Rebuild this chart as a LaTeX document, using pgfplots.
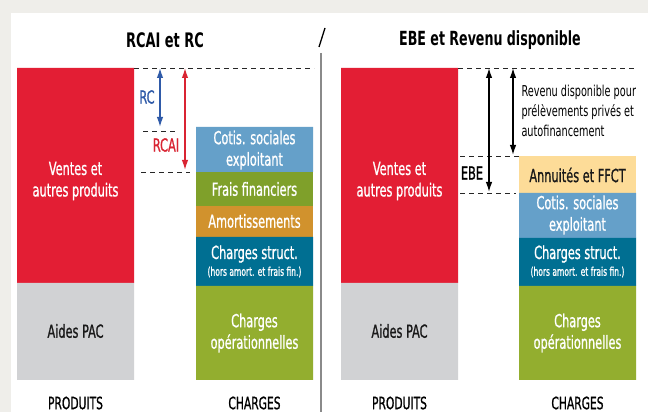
\documentclass[border=0pt]{standalone}
\usepackage{pgfplots}
\usepackage{pgfplotstable}
\pgfplotsset{compat=1.18}
\usetikzlibrary{arrows.meta}
\usepackage{fontspec}
\setmainfont{DejaVu Sans Condensed}[FakeStretch=0.72]
\newfontfamily\medfont{DejaVu Sans Condensed}[FakeStretch=0.7, FakeBold=0.9]

\definecolor{bgout}{HTML}{EFEEEA}
\definecolor{cventes}{HTML}{E31E34}
\definecolor{caides}{HTML}{D1D2D4}
\definecolor{cope}{HTML}{93AE2F}
\definecolor{cfrais}{HTML}{7FA02A}
\definecolor{camort}{HTML}{D1922D}
\definecolor{cstruct}{HTML}{006F92}
\definecolor{ccotis}{HTML}{65A0C9}
\definecolor{cannu}{HTML}{FDDC98}
\definecolor{arblue}{HTML}{2F5AA8}
\definecolor{arred}{HTML}{D92432}
\definecolor{sepgray}{HTML}{8A8A8A}

% bar segments, in px of the 648x412 reference, stacked from the baseline
\pgfplotstableread{
x     aides ope ventes struct amort frais cotis annu
75.5  97    0   215    0      0     0     0     0
254.5 0     94  0      49     31    34    45    0
399.5 97    0   215    0      0     0     0     0
577.5 0     94  0      48     0     0     45    37
}\budget

\pgfplotsset{frame/.style={
  at={(0,0)}, anchor=south west,
  width=648pt, height=412pt, scale only axis,
  xmin=0, xmax=648, ymin=-32, ymax=380,
  hide axis, clip=false}}

\tikzset{lab/.style={align=center, text=white, font=\medfont\fontsize{18}{21.5}\selectfont},
         small/.style={font=\medfont\fontsize{12}{13}\selectfont},
         foot/.style={font=\medfont\fontsize{17}{19}\selectfont},
         guide/.style={dashed, dash pattern=on 5pt off 4pt, line width=0.9pt, black!85},
         dbl/.style={line width=1.4pt, {Latex[length=10pt,width=6.5pt]}-{Latex[length=10pt,width=6.5pt]}}}

\begin{document}
\begin{tikzpicture}
% page background: grey frame, white panel
\fill[bgout] (0,0) rectangle (648pt,412pt);
\fill[white] (11pt,0) rectangle (648pt,399pt);

\begin{axis}[frame, ybar stacked, bar width=117,
  every axis plot/.append style={draw=none}]
\addplot[fill=caides]  table[x=x,y=aides]  {\budget};
\addplot[fill=cope]    table[x=x,y=ope]    {\budget};
\addplot[fill=cventes] table[x=x,y=ventes] {\budget};
\addplot[fill=cstruct] table[x=x,y=struct] {\budget};
\addplot[fill=camort]  table[x=x,y=amort]  {\budget};
\addplot[fill=cfrais]  table[x=x,y=frais]  {\budget};
\addplot[fill=ccotis]  table[x=x,y=cotis]  {\budget};
\addplot[fill=cannu]   table[x=x,y=annu]   {\budget};
\end{axis}

% same frame again for the texts, arrows and guides on top of the bars
\begin{axis}[frame]
% titles and separator
\node[font=\bfseries\fontsize{20}{22}\selectfont] at (axis cs:165,340) {RCAI et RC};
\node[font=\bfseries\fontsize{19.5}{22}\selectfont] at (axis cs:490,340) {EBE et Revenu disponible};
\draw[line width=1.3pt] (axis cs:319,333) -- (axis cs:325,352);
\draw[sepgray, line width=1.5pt] (axis cs:321,327) -- (axis cs:321,-32);

% bar texts
\node[lab] at (axis cs:75.5,199) {Ventes et\\autres produits};
\node[lab] at (axis cs:399.5,199) {Ventes et\\autres produits};
\node[lab, text=black!90] at (axis cs:75.5,49) {Aides PAC};
\node[lab, text=black!90] at (axis cs:399.5,49) {Aides PAC};
\node[foot] at (axis cs:75.5,-23) {PRODUITS};
\node[foot] at (axis cs:399.5,-23) {PRODUITS};
\node[foot] at (axis cs:254.5,-23) {CHARGES};
\node[foot] at (axis cs:577.5,-23) {CHARGES};
\node[lab] at (axis cs:254.5,47) {Charges\\opérationnelles};
\node[lab] at (axis cs:577.5,47) {Charges\\opérationnelles};
\node[lab] at (axis cs:254.5,230) {Cotis. sociales\\exploitant};
\node[lab] at (axis cs:254.5,191) {Frais financiers};
\node[lab] at (axis cs:254.5,159) {Amortissements};
\node[lab] at (axis cs:254.5,126) {Charges struct.};
\node[lab, small] at (axis cs:254.5,108) {(hors amort. et frais fin.)};
\node[lab, text=black!90] at (axis cs:577.5,205) {Annuités et FFCT};
\node[lab] at (axis cs:577.5,165) {Cotis. sociales\\exploitant};
\node[lab] at (axis cs:577.5,126) {Charges struct.};
\node[lab, small] at (axis cs:577.5,108) {(hors amort. et frais fin.)};

% left panel guides and arrows
\draw[guide] (axis cs:134,312) -- (axis cs:314,312);
\draw[guide] (axis cs:143,249) -- (axis cs:178,249);
\draw[guide] (axis cs:141,208) -- (axis cs:190,208);
\draw[dbl, arblue] (axis cs:160,312) -- (axis cs:160,253);
\draw[dbl, arred] (axis cs:185,312) -- (axis cs:185,210);
\node[text=arblue, font=\medfont\fontsize{18}{20}\selectfont] at (axis cs:147,283) {RC};
\node[text=arred, font=\medfont\fontsize{18}{20}\selectfont] at (axis cs:166,235) {RCAI};

% right panel guides and arrows
\draw[guide] (axis cs:458,312) -- (axis cs:636,312);
\draw[guide] (axis cs:460,224) -- (axis cs:519,224);
\draw[guide] (axis cs:460,187) -- (axis cs:516,187);
\draw[dbl] (axis cs:489,312) -- (axis cs:489,188);
\draw[dbl] (axis cs:513,312) -- (axis cs:513,225);
\node[font=\medfont\fontsize{18}{20}\selectfont] at (axis cs:472,207) {EBE};
\node[anchor=west, align=left, font=\fontsize{15}{20}\selectfont] at (axis cs:518,269)
  {Revenu disponible pour\\prélèvements privés et\\autofinancement};
\end{axis}
\end{tikzpicture}
\end{document}
